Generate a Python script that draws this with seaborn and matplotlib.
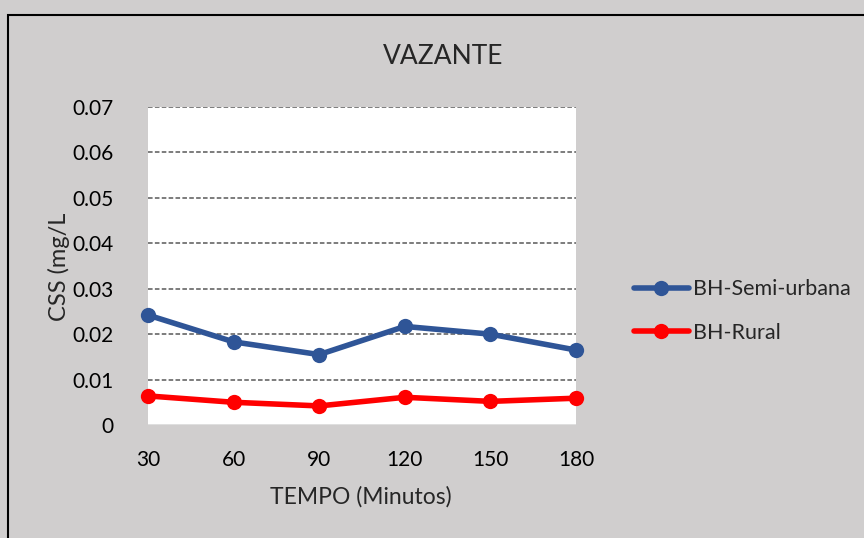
import matplotlib
matplotlib.use("Agg")
import matplotlib.pyplot as plt
from matplotlib.patches import Rectangle
from matplotlib.ticker import FixedLocator, FuncFormatter
import seaborn as sns
import pandas as pd

# Sampling times (minutes) and suspended sediment concentration per basin
tempo = [30, 60, 90, 120, 150, 180]
semi_urbana = [0.0242, 0.0183, 0.0155, 0.0217, 0.0200, 0.0165]
rural = [0.0064, 0.0050, 0.0042, 0.0061, 0.0052, 0.0059]
series_names = ["BH-Semi-urbana", "BH-Rural"]
y_ticks = [0, 0.01, 0.02, 0.03, 0.04, 0.05, 0.06, 0.07]

df = pd.DataFrame({
    "tempo": tempo * 2,
    "css": semi_urbana + rural,
    "serie": [series_names[0]] * len(tempo) + [series_names[1]] * len(tempo),
})

sns.set_theme(style="white")
plt.rcParams["font.family"] = ["Lato", "DejaVu Sans"]

bg = "#D0CECE"
fig = plt.figure(figsize=(8.64, 5.38), dpi=100, facecolor=bg)
ax = fig.add_axes([148 / 864, 1 - 425 / 538, (576 - 148) / 864, (425 - 107) / 538])
ax.set_facecolor("white")

palette = {series_names[0]: "#2F5597", series_names[1]: "#FF0000"}
sns.lineplot(data=df, x="tempo", y="css", hue="serie", palette=palette,
             marker="o", markersize=11, markeredgewidth=0, linewidth=4,
             ax=ax, legend=True, clip_on=False, zorder=3)

ax.set_xlim(30, 180)
ax.set_ylim(0, 0.07)
ax.xaxis.set_major_locator(FixedLocator(tempo))
ax.yaxis.set_major_locator(FixedLocator(y_ticks))
ax.yaxis.set_major_formatter(FuncFormatter(lambda v, p: "0" if abs(v) < 1e-12 else f"{v:.2f}"))

for v in y_ticks[1:]:
    ax.axhline(v, color="#595959", linestyle=(0, (3, 1.5)), linewidth=1.1, zorder=1)
ax.axhline(0, color="#D9D9D9", linewidth=1.2, zorder=1)

for s in ax.spines.values():
    s.set_visible(False)
ax.tick_params(axis="both", length=0, labelsize=15, colors="black")
ax.tick_params(axis="y", pad=25)
ax.tick_params(axis="x", pad=18)

ax.set_xlabel("")
ax.set_ylabel("")
fig.text(361 / 864, 1 - 497 / 538, "TEMPO (Minutos)", ha="center", va="center", fontsize=16.5)
fig.text(59 / 864, 1 - 267 / 538, "CSS (mg/L", ha="center", va="center", fontsize=17, rotation=90)
fig.text(443 / 864, 1 - 56 / 538, "VAZANTE", ha="center", va="center", fontsize=19)

handles, labels = ax.get_legend_handles_labels()
ax.legend(handles, labels, loc="center left", bbox_to_anchor=(625 / 864, 1 - 311 / 538),
          bbox_transform=fig.transFigure, frameon=False, fontsize=15.5,
          handlelength=2.55, handletextpad=0.2, labelspacing=1.1, borderaxespad=0)

# chart frame
fig.patches.append(Rectangle((8 / 864, -0.05), 1.1, 1 - 15 / 538 + 0.05, transform=fig.transFigure,
                             fill=False, edgecolor="black", linewidth=1.5))

fig.savefig("out.png", dpi=100, facecolor=bg)
